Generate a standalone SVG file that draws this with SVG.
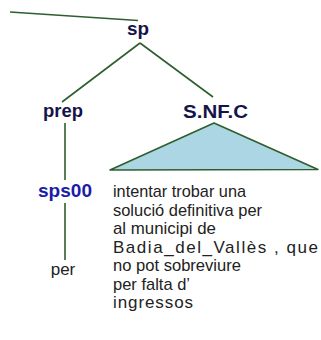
<svg xmlns="http://www.w3.org/2000/svg" width="321" height="340" viewBox="0 0 321 340">
<style>
.ln{stroke:#2e5e2e;stroke-width:1.6;fill:none}
.lbl{font-family:"Liberation Sans",Arial,sans-serif;font-weight:bold;font-size:18px;fill:#14144a;text-anchor:middle}
.pos{fill:#1c1ca8}
.txt{font-family:"Liberation Sans",Arial,sans-serif;font-size:17px;fill:#222}
</style>
<rect width="321" height="340" fill="#fff"/>
<g id="connectors">
<line class="ln" x1="10" y1="12" x2="138" y2="20.5"/>
<line class="ln" x1="140" y1="43" x2="62" y2="102"/>
<line class="ln" x1="140" y1="43" x2="213" y2="97"/>
<line class="ln" x1="65" y1="123" x2="65" y2="180"/>
<line class="ln" x1="65" y1="203" x2="65" y2="260"/>
</g>
<g id="sp"><text class="lbl" x="138" y="35" textLength="22" lengthAdjust="spacingAndGlyphs">sp</text></g>
<g id="prep"><text class="lbl" x="63" y="117" textLength="40" lengthAdjust="spacingAndGlyphs">prep</text></g>
<g id="SNFC"><text class="lbl" x="215.5" y="118" textLength="65" lengthAdjust="spacingAndGlyphs">S.NF.C</text>
<polygon points="214,123 318,169.5 110,170" fill="#acd6e3" stroke="#2e5e2e" stroke-width="1.6" stroke-linejoin="round"/></g>
<g id="sps00"><text class="lbl pos" x="65" y="197" textLength="54" lengthAdjust="spacingAndGlyphs">sps00</text></g>
<g id="per"><text class="txt" x="63" y="275" text-anchor="middle">per</text></g>
<g id="phrase">
<text class="txt" x="113" y="197" textLength="133" lengthAdjust="spacingAndGlyphs">intentar trobar una</text>
<text class="txt" x="113" y="215.5" textLength="149" lengthAdjust="spacingAndGlyphs">solució definitiva per</text>
<text class="txt" x="113" y="234" textLength="103" lengthAdjust="spacingAndGlyphs">al municipi de</text>
<text class="txt" x="113" y="252.5" textLength="205" lengthAdjust="spacing">Badia_del_Vallès , que</text>
<text class="txt" x="113" y="271" textLength="128" lengthAdjust="spacingAndGlyphs">no pot sobreviure</text>
<text class="txt" x="113" y="289.5" textLength="77" lengthAdjust="spacingAndGlyphs">per falta d’</text>
<text class="txt" x="113" y="308" textLength="80" lengthAdjust="spacing">ingressos</text>
</g>
</svg>
